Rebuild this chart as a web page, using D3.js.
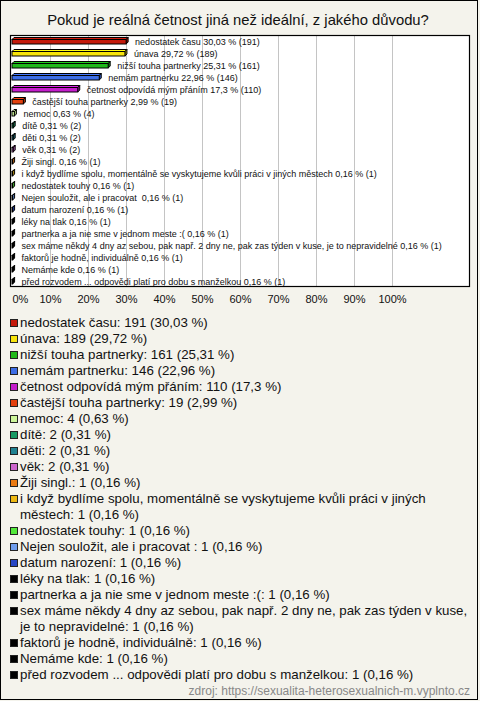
<!DOCTYPE html>
<html>
<head>
<meta charset="utf-8">
<script src="https://cdn.jsdelivr.net/npm/d3@7"></script>
<style>
  html, body { margin: 0; padding: 0; background: #f4f3ec; }
  svg { display: block; }
  text { font-family: "Liberation Sans", Arial, sans-serif; white-space: pre; }
</style>
</head>
<body>
<svg id="chart" width="480" height="701"></svg>
<script>
const title = "Pokud je reálná četnost jiná než ideální, z jakého důvodu?";
const categories = [
  "nedostatek času",
  "únava",
  "nižší touha partnerky",
  "nemám partnerku",
  "četnost odpovídá mým přáním",
  "častější touha partnerky",
  "nemoc",
  "dítě",
  "děti",
  "věk",
  "Žiji singl.",
  "i když bydlíme spolu, momentálně se vyskytujeme kvůli práci v jiných městech",
  "nedostatek touhy",
  "Nejen souložit, ale i pracovat ",
  "datum narození",
  "léky na tlak",
  "partnerka a ja nie sme v jednom meste :(",
  "sex máme někdy 4 dny az sebou, pak např. 2 dny ne, pak zas týden v kuse, je to nepravidelné",
  "faktorů je hodně, individuálně",
  "Nemáme kde",
  "před rozvodem ... odpovědi platí pro dobu s manželkou"
];
const counts = [191, 189, 161, 146, 110, 19, 4, 2, 2, 2, 1, 1, 1, 1, 1, 1, 1, 1, 1, 1, 1];
const percents = [30.03, 29.72, 25.31, 22.96, 17.3, 2.99, 0.63, 0.31, 0.31, 0.31, 0.16, 0.16, 0.16, 0.16, 0.16, 0.16, 0.16, 0.16, 0.16, 0.16, 0.16];
const colors = ["#c41a0c", "#f7e40c", "#1fb81a", "#3d6ee6", "#c41ecc", "#e2400e", "#ccf59a", "#169963", "#1f8190", "#cc66cc", "#ea7a12", "#ecb812", "#52e83a", "#6e9cec", "#2646c4",
  "#000000", "#000000", "#000000", "#000000", "#000000", "#000000"];
const tickValues = [0, 10, 20, 30, 40, 50, 60, 70, 80, 90, 100];
const source = "zdroj: https://sexualita-heterosexualnich-m.vyplnto.cz";

const fmt = v => String(v).replace(".", ",");

const svg = d3.select("#chart");

// outer border
svg.append("rect").attr("x", 0.5).attr("y", 0.5).attr("width", 477).attr("height", 699)
  .attr("fill", "#f4f3ec").attr("stroke", "#000").attr("stroke-width", 1);

svg.append("text").attr("x", 238).attr("y", 25).attr("text-anchor", "middle")
  .attr("font-size", 14.8).attr("fill", "#111").text(title);

const plot = {left: 10, top: 35, right: 470, bottom: 287};
const x = d3.scaleLinear().domain([0, 100]).range([12, 392]);
const y = d3.scaleBand().domain(d3.range(categories.length)).range([plot.top, plot.bottom]).paddingInner(0);

svg.append("rect").attr("x", plot.left + 0.5).attr("y", plot.top + 0.5)
  .attr("width", plot.right - plot.left - 1).attr("height", plot.bottom - plot.top - 1)
  .attr("fill", "#fff");

// gridlines
svg.append("g").selectAll("line").data(tickValues.filter(d => d > 0)).join("line")
  .attr("x1", d => Math.round(x(d)) + 0.5).attr("x2", d => Math.round(x(d)) + 0.5)
  .attr("y1", plot.top).attr("y2", plot.bottom)
  .attr("stroke", "#c4c4c4").attr("stroke-width", 1);

// bars (pseudo 3D)
const depth = 2;
const bars = svg.append("g").selectAll("g").data(categories.map((c, i) => i)).join("g");
bars.each(function(i) {
  const g = d3.select(this);
  const cy = y(i) + y.bandwidth() / 2;
  const x0 = x(0), x1 = x(percents[i]);
  const y0 = cy - 1.5, y1 = cy + 3;
  const col = d3.color(colors[i]);
  g.append("path")
    .attr("d", `M${x0},${y0}L${x0 + depth},${y0 - depth}L${x1 + depth},${y0 - depth}L${x1},${y0}Z`)
    .attr("fill", col.brighter(0.3)).attr("stroke", "#000").attr("stroke-width", 1);
  g.append("path")
    .attr("d", `M${x1},${y0}L${x1 + depth},${y0 - depth}L${x1 + depth},${y1 - depth}L${x1},${y1}Z`)
    .attr("fill", col.darker(0.6)).attr("stroke", "#000").attr("stroke-width", 1);
  g.append("rect").attr("x", x0).attr("y", y0).attr("width", x1 - x0).attr("height", y1 - y0)
    .attr("fill", colors[i]).attr("stroke", "#000").attr("stroke-width", 1);
  g.append("text").attr("x", x1 + depth + 7).attr("y", cy + 3.5)
    .attr("font-size", 9).attr("fill", "#111")
    .text(`${categories[i]} ${fmt(percents[i])} % (${counts[i]})`);
});

// plot border
svg.append("rect").attr("x", plot.left + 0.5).attr("y", plot.top + 0.5)
  .attr("width", plot.right - plot.left - 1).attr("height", plot.bottom - plot.top - 1)
  .attr("fill", "none").attr("stroke", "#000").attr("stroke-width", 1.2);

// x axis
const axis = d3.axisBottom(x).tickValues(tickValues).tickSize(0).tickPadding(0).tickFormat(d => d + "%");
const ag = svg.append("g").attr("transform", `translate(0, ${plot.bottom})`).call(axis);
ag.select(".domain").remove();
ag.selectAll("text").attr("font-size", 11).attr("fill", "#111").attr("dy", 0).attr("y", 16)
  .style("font-family", "'Liberation Sans', Arial, sans-serif");
ag.selectAll(".tick").filter(d => d === 0).select("text").attr("text-anchor", "start");

// legend
const lg = svg.append("g");
const lineH = 16;
const fs = 13.3;
const maxW = 452;
const measure = lg.append("text").attr("font-size", fs).attr("visibility", "hidden");
function wrap(str) {
  const words = str.split(" ");
  const lines = [];
  let line = "";
  words.forEach(w => {
    const test = line ? line + " " + w : w;
    measure.text(test);
    if (measure.node().getComputedTextLength() > maxW && line) {
      lines.push(line);
      line = w;
    } else {
      line = test;
    }
  });
  if (line) lines.push(line);
  return lines;
}
let baseline = 327;
categories.forEach((c, i) => {
  const full = `${c}: ${counts[i]} (${fmt(percents[i])} %)`;
  lg.append("rect").attr("x", 10.5).attr("y", baseline - 7.5).attr("width", 7).attr("height", 7)
    .attr("fill", colors[i]).attr("stroke", "#222").attr("stroke-width", 1);
  wrap(full).forEach(l => {
    lg.append("text").attr("x", 20).attr("y", baseline).attr("font-size", fs).attr("fill", "#111").text(l);
    baseline += lineH;
  });
});
measure.remove();

svg.append("text").attr("x", 470).attr("y", 695).attr("text-anchor", "end")
  .attr("font-size", 12).attr("fill", "#888").text(source);
</script>
</body>
</html>
